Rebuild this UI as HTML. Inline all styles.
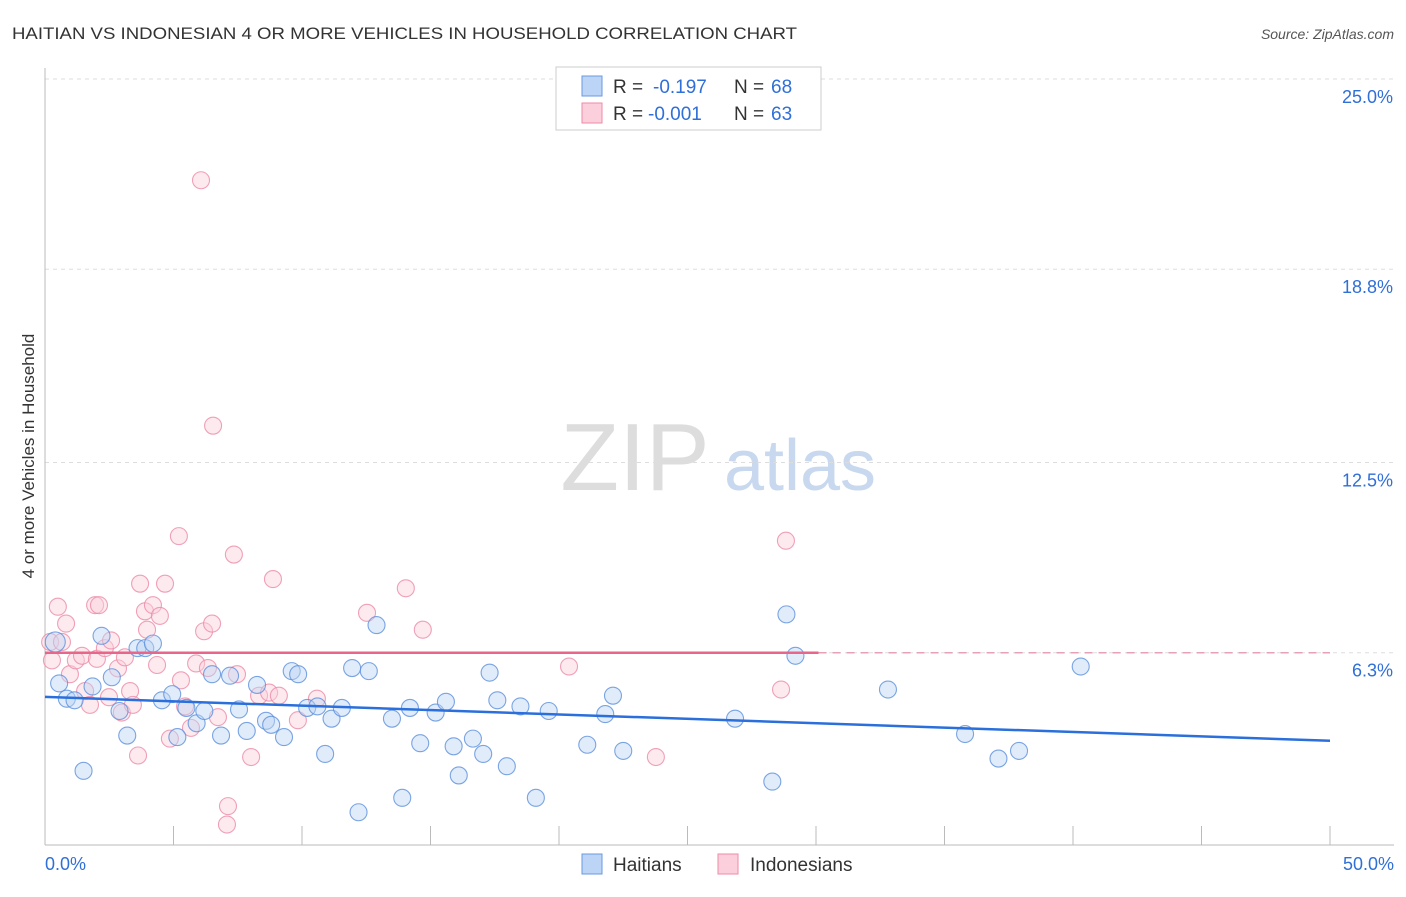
<!DOCTYPE html>
<html><head><meta charset="utf-8"><style>
body{margin:0;background:#fff;font-family:"Liberation Sans",sans-serif}
svg text{font-family:"Liberation Sans",sans-serif}
</style></head><body>
<svg id="c" width="1406" height="892">
<text x="12" y="39" font-size="17" fill="#333" textLength="785" lengthAdjust="spacingAndGlyphs">HAITIAN VS INDONESIAN 4 OR MORE VEHICLES IN HOUSEHOLD CORRELATION CHART</text>
<text x="1394" y="39" font-size="14" fill="#555" font-style="italic" text-anchor="end">Source: ZipAtlas.com</text>
<text x="34" y="456" font-size="17" fill="#333" text-anchor="middle" transform="rotate(-90 34 456)">4 or more Vehicles in Household</text>
<g><text x="635" y="490" font-size="96" fill="#ddd" font-family="Liberation Serif" text-anchor="middle">ZIP</text><text x="800" y="490" font-size="72" fill="#c8d8ee" text-anchor="middle">atlas</text></g>
<g id="grid"></g><g id="pts"></g><g id="lines"></g>
<g>
<rect x="556" y="67" width="265" height="63" fill="#fff" stroke="#ccc"/>
<rect x="582" y="76" width="20" height="20" fill="#bcd4f5" stroke="#6a9ae0"/>
<rect x="582" y="103" width="20" height="20" fill="#fbd0dc" stroke="#ec8aa6"/>
<text x="613" y="93" font-size="19" fill="#333">R =</text><text x="653" y="93" font-size="19" fill="#2f6fd8">-0.197</text>
<text x="734" y="93" font-size="19" fill="#333">N =</text><text x="771" y="93" font-size="19" fill="#2f6fd8">68</text>
<text x="613" y="120" font-size="19" fill="#333">R =</text><text x="648" y="120" font-size="19" fill="#2f6fd8">-0.001</text>
<text x="734" y="120" font-size="19" fill="#333">N =</text><text x="771" y="120" font-size="19" fill="#2f6fd8">63</text>
</g>
<g>
<rect x="582" y="854" width="20" height="20" fill="#bcd4f5" stroke="#6a9ae0"/>
<text x="613" y="871" font-size="19" fill="#333">Haitians</text>
<rect x="718" y="854" width="20" height="20" fill="#fbd0dc" stroke="#ec8aa6"/>
<text x="750" y="871" font-size="19" fill="#333">Indonesians</text>
</g>
</svg>
<script>
const yTicks=[25,18.8,12.5,6.3];
const yTickLabels=["25.0%","18.8%","12.5%","6.3%"];
const xTickLabels=["0.0%","50.0%"];
const haitiansX=[0.4,0.55,0.85,1.15,1.85,2.2,2.6,1.5,2.9,3.2,3.6,3.9,4.2,4.55,4.95,5.15,5.5,5.9,6.2,6.5,6.85,7.2,7.55,7.85,8.25,8.6,8.8,9.3,9.6,9.85,10.2,10.6,10.9,11.15,11.55,11.95,12.2,12.6,12.9,13.5,13.9,14.2,14.6,15.2,15.6,15.9,16.1,16.65,17.05,17.3,17.6,17.97,18.5,19.1,19.6,21.1,21.8,22.1,22.5,26.85,28.3,28.85,29.2,32.8,35.8,37.1,37.9,40.3];
const haitiansY=[6.65,5.3,4.8,4.75,5.2,6.85,5.5,2.45,4.4,3.6,6.45,6.45,6.6,4.75,4.95,3.55,4.5,4.0,4.4,5.6,3.6,5.55,4.45,3.75,5.25,4.08,3.95,3.55,5.7,5.6,4.5,4.55,3.0,4.15,4.5,5.8,1.1,5.7,7.2,4.15,1.57,4.5,3.35,4.35,4.7,3.25,2.3,3.5,3.0,5.65,4.75,2.6,4.55,1.57,4.4,3.3,4.3,4.9,3.1,4.15,2.1,7.55,6.2,5.1,3.65,2.85,3.1,5.85];
const indonesiansX=[0.2,0.27,0.5,0.66,0.82,0.97,1.2,1.44,1.56,1.75,1.95,2.1,2.02,2.33,2.49,2.57,2.84,2.99,3.11,3.31,3.42,3.62,3.7,3.89,3.97,4.2,4.36,4.47,4.67,4.86,5.21,5.29,5.45,5.68,5.88,6.07,6.19,6.34,6.5,6.54,6.73,7.12,7.08,7.35,7.47,8.02,8.33,8.72,8.87,9.1,9.84,10.58,12.53,14.04,14.7,20.39,23.77,28.64,28.83];
const indonesiansY=[6.65,6.05,7.8,6.65,7.25,5.6,6.05,6.2,5.05,4.6,7.85,7.85,6.1,6.45,4.85,6.7,5.79,4.35,6.15,5.05,4.6,2.95,8.55,7.65,7.05,7.85,5.9,7.5,8.55,3.5,10.1,5.4,4.55,3.85,5.95,21.7,7.0,5.8,7.25,13.7,4.2,1.3,0.7,9.5,5.6,2.9,4.9,5.0,8.7,4.9,4.1,4.8,7.6,8.4,7.05,5.85,2.9,5.1,9.95];
const NS='http://www.w3.org/2000/svg';
const X=v=>45+v/50*1285, Y=v=>846-v*30.68;
function mk(tag,attrs,parent){const e=document.createElementNS(NS,tag);for(const k in attrs)e.setAttribute(k,attrs[k]);document.getElementById(parent).appendChild(e);return e;}
yTicks.forEach((t,i)=>{
  const g=mk('line',{x1:45,x2:1394,y1:Y(t),y2:Y(t),stroke:'#ddd','stroke-dasharray':'4,4'},'grid');
  
  
  const l=mk('text',{x:1393,y:Y(t)+24,'font-size':18,fill:'#2f6fd8','text-anchor':'end'},'grid');
  l.textContent=yTickLabels[i];
  
  
});
const ax=mk('line',{x1:45,x2:1394,y1:845,y2:845,stroke:'#bbb'},'grid');


const ay=mk('line',{x1:45,x2:45,y1:68,y2:845,stroke:'#bbb'},'grid');


for(let i=1;i<=10;i++){const t=mk('line',{x1:X(i*5),x2:X(i*5),y1:826,y2:845,stroke:'#bbb'},'grid');

}
[[0,'start',45],[50,'end',1394]].forEach((d,i)=>{const t=mk('text',{x:d[2],y:870,'font-size':18,fill:'#2f6fd8','text-anchor':d[1]},'grid');t.textContent=xTickLabels[i];

});
function draw(xs,ys,fill,stroke,name){xs.forEach((x,i)=>{const c=mk('circle',{cx:X(x),cy:Y(ys[i]),r:i===0&&name==='haitian-point'?10:8.5,fill:fill,'fill-opacity':0.45,stroke:stroke,'stroke-opacity':0.8,'stroke-width':1.1},'pts');

});}
draw(indonesiansX,indonesiansY,'#fbd0dc','#ec8aa6','indonesian-point');
draw(haitiansX,haitiansY,'#bcd4f5','#5b8fdc','haitian-point');
const b=mk('line',{x1:X(0),y1:Y(4.86),x2:X(50),y2:Y(3.43),stroke:'#2a6fdb','stroke-width':2.5},'lines');


const p=mk('line',{x1:X(0),y1:Y(6.3),x2:X(30.1),y2:Y(6.3),stroke:'#e8668a','stroke-width':2.5},'lines');


const pd=mk('line',{x1:X(30.1),y1:Y(6.3),x2:X(50),y2:Y(6.3),stroke:'#e8a0b4','stroke-width':1.5,'stroke-dasharray':'8,6'},'lines');


</script>
</body></html>
